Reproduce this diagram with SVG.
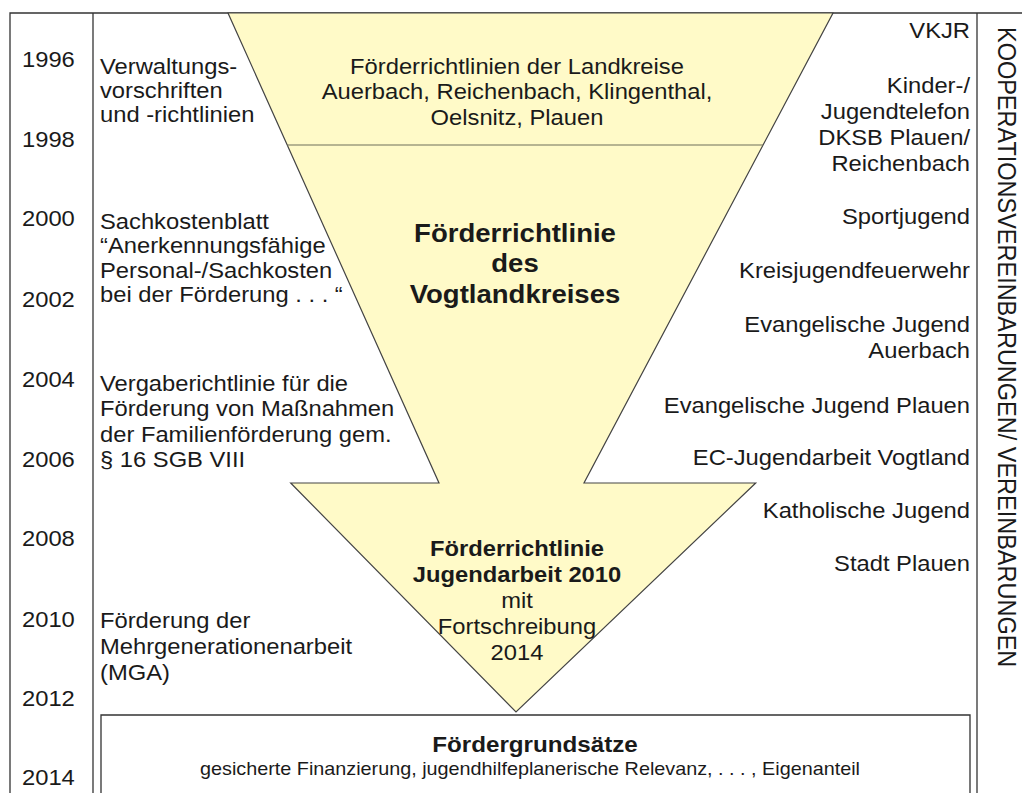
<svg xmlns="http://www.w3.org/2000/svg" width="1022" height="793" viewBox="0 0 1022 793">
  <style>
    .t { font-family: "Liberation Sans", Arial, sans-serif; font-size: 22px; fill: #1a1a1a; }
    .b { font-family: "Liberation Sans", Arial, sans-serif; font-weight: bold; fill: #1a1a1a; }
    .m { text-anchor: middle; }
    .e { text-anchor: end; }
    .line { stroke: #333; stroke-width: 1.3; fill: none; }
    .funnel { fill: #fffac8; stroke: #444; stroke-width: 1.2; stroke-linejoin: miter; }
  </style>
  <rect width="1022" height="793" fill="#ffffff"/>

  <g id="frame">
    <path class="line" d="M10,793 V13 H1022"/>
    <path class="line" d="M93,13 V793"/>
    <path class="line" d="M977,13 V793"/>
  </g>

  <g id="years">
    <text class="t" transform="translate(22,67) scale(1.08,1)">1996</text>
    <text class="t" transform="translate(22,147) scale(1.08,1)">1998</text>
    <text class="t" transform="translate(22,226) scale(1.08,1)">2000</text>
    <text class="t" transform="translate(22,307) scale(1.08,1)">2002</text>
    <text class="t" transform="translate(22,387) scale(1.08,1)">2004</text>
    <text class="t" transform="translate(22,467) scale(1.08,1)">2006</text>
    <text class="t" transform="translate(22,546) scale(1.08,1)">2008</text>
    <text class="t" transform="translate(22,627) scale(1.08,1)">2010</text>
    <text class="t" transform="translate(22,706) scale(1.08,1)">2012</text>
    <text class="t" transform="translate(22,785) scale(1.08,1)">2014</text>
  </g>

  <g id="funnel">
    <polygon class="funnel" points="228,13 833,13 584,483 755.7,483 516,712 290.7,483 439,483"/>
    <line x1="287" y1="145" x2="763" y2="145" stroke="#6e6e5a" stroke-width="1.2"/>
  </g>

  <g id="node-landkreise">
    <text class="t m" transform="translate(517,74) scale(1.08,1)"><tspan x="0" y="0">Förderrichtlinien der Landkreise</tspan><tspan x="0" y="25.5">Auerbach, Reichenbach, Klingenthal,</tspan><tspan x="0" y="51">Oelsnitz, Plauen</tspan></text>
  </g>

  <g id="node-vogtlandkreis">
    <text class="b m" font-size="25.5" transform="translate(515,242) scale(1.08,1)"><tspan x="0" y="0">Förderrichtlinie</tspan><tspan x="0" y="30.5">des</tspan><tspan x="0" y="61">Vogtlandkreises</tspan></text>
  </g>

  <g id="node-jugendarbeit2010">
    <text class="b m" font-size="22" transform="translate(517,556) scale(1.08,1)"><tspan x="0" y="0">Förderrichtlinie</tspan><tspan x="0" y="26">Jugendarbeit 2010</tspan></text>
    <text class="t m" transform="translate(517,608) scale(1.08,1)"><tspan x="0" y="0">mit</tspan><tspan x="0" y="26">Fortschreibung</tspan><tspan x="0" y="52">2014</tspan></text>
  </g>

  <g id="left-items">
    <text class="t" transform="translate(100,74) scale(1.08,1)"><tspan x="0" y="0">Verwaltungs-</tspan><tspan x="0" y="24">vorschriften</tspan><tspan x="0" y="48.5">und -richtlinien</tspan></text>
    <text class="t" transform="translate(100,229) scale(1.08,1)"><tspan x="0" y="0">Sachkostenblatt</tspan><tspan x="0" y="24.5">“Anerkennungsfähige</tspan><tspan x="0" y="49">Personal-/Sachkosten</tspan><tspan x="0" y="73.5">bei der Förderung . . . “</tspan></text>
    <text class="t" transform="translate(100,391) scale(1.08,1)"><tspan x="0" y="0">Vergaberichtlinie für die</tspan><tspan x="0" y="25.5">Förderung von Maßnahmen</tspan><tspan x="0" y="51">der Familienförderung gem.</tspan><tspan x="0" y="76.5">§ 16 SGB VIII</tspan></text>
    <text class="t" transform="translate(100,628) scale(1.08,1)"><tspan x="0" y="0">Förderung der</tspan><tspan x="0" y="26">Mehrgenerationenarbeit</tspan><tspan x="0" y="52">(MGA)</tspan></text>
  </g>

  <g id="right-items">
    <text class="t e" transform="translate(970,38) scale(1.08,1)">VKJR</text>
    <text class="t e" transform="translate(970,93) scale(1.08,1)"><tspan x="0" y="0">Kinder-/</tspan><tspan x="0" y="26">Jugendtelefon</tspan><tspan x="0" y="52">DKSB Plauen/</tspan><tspan x="0" y="78">Reichenbach</tspan></text>
    <text class="t e" transform="translate(970,224) scale(1.08,1)">Sportjugend</text>
    <text class="t e" transform="translate(970,278) scale(1.08,1)">Kreisjugendfeuerwehr</text>
    <text class="t e" transform="translate(970,332) scale(1.08,1)"><tspan x="0" y="0">Evangelische Jugend</tspan><tspan x="0" y="26">Auerbach</tspan></text>
    <text class="t e" transform="translate(970,413) scale(1.08,1)">Evangelische Jugend Plauen</text>
    <text class="t e" transform="translate(970,465) scale(1.08,1)">EC-Jugendarbeit Vogtland</text>
    <text class="t e" transform="translate(970,518) scale(1.08,1)">Katholische Jugend</text>
    <text class="t e" transform="translate(970,571) scale(1.08,1)">Stadt Plauen</text>
  </g>

  <g id="side-label">
    <text class="t" transform="translate(998,27) scale(1.1,1) rotate(90)" style="font-size:23.5px">KOOPERATIONSVEREINBARUNGEN/ VEREINBARUNGEN</text>
  </g>

  <g id="node-foerdergrundsaetze">
    <path class="line" d="M101,793 V715 H970 V793"/>
    <text class="b m" font-size="22" transform="translate(535,752) scale(1.1,1)">Fördergrundsätze</text>
    <text class="t m" transform="translate(530,775) scale(1.1,1)" style="font-size:18px">gesicherte Finanzierung, jugendhilfeplanerische Relevanz, . . . , Eigenanteil</text>
  </g>

  <g id="connectors"></g>
</svg>
